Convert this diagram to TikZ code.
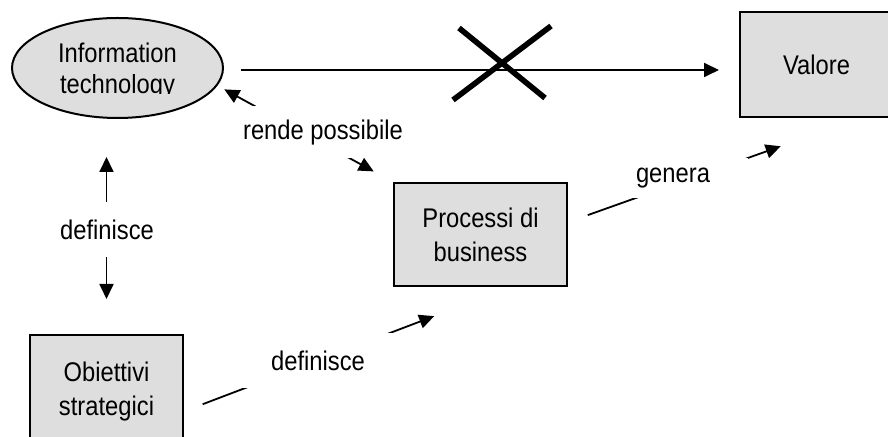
\documentclass[tikz,border=0pt]{standalone}
\usepackage{fontspec}
\setmainfont{Liberation Sans}[FakeStretch=0.88]
\usepackage{trimclip}
\usetikzlibrary{arrows.meta,shapes.geometric}
\definecolor{boxgray}{gray}{0.87}

\begin{document}
\begin{tikzpicture}[x=0.5pt, y=-0.5pt, font=\fontsize{13.5}{17}\selectfont,
		>={Triangle[length=7.5pt,width=7pt]},
		box/.style={rectangle, draw, line width=1pt, fill=boxgray, align=center, inner sep=0pt},
		conn/.style={line width=0.9pt},
		lbl/.style={fill=white, inner sep=0pt, minimum height=27.5pt},
		cross/.style={line width=2.8pt}]
			\clip (0,0) rectangle (888,437);

			\node[box, ellipse, minimum width=105.5pt, minimum height=50pt, font=\fontsize{13.5}{15.5}\selectfont] (it) at (117.5,68) {Information\\\clipbox{0pt 0.22em 0pt 0pt}{technology}};
			\node[box, minimum width=76.5pt, minimum height=52.5pt] (va) at (816.5,64.5) {Valore};
			\node[box, minimum width=86.5pt, minimum height=51.5pt] (pb) at (480.5,234.5) {Processi di\\business};
			\node[box, minimum width=76.5pt, minimum height=57pt] (ob) at (106.5,392) {Obiettivi\\strategici};

			\coordinate (h) at ([yshift=-1pt]it.east);
			\draw[conn, ->, shorten <=8.5pt, shorten >=10pt] (h) -- (h -| va.west);
			\coordinate (no) at (502,63);
			\draw[cross] ([shift={(-43,-35)}]no) -- ([shift={(43,35)}]no);
			\draw[cross] ([shift={(-49,37)}]no) -- ([shift={(49,-37)}]no);

			\draw[conn, <->, shorten <=19pt, shorten >=17.5pt] (ob.north |- it.south) -- (ob.north);
			\draw[conn, <->, shorten <=3.9pt, shorten >=11pt] (it.-10) -- (pb.north west);
			\draw[conn, ->, shorten <=10pt, shorten >=41pt] (ob.-14) -- (pb.-60);
			\draw[conn, ->, shorten <=10.5pt, shorten >=42pt] (pb.8.5) -- (va.-51.5);

			\node[lbl, minimum width=52pt] (dv) at (107,229.5) {definisce};
			\node[lbl, minimum width=77.5pt, minimum height=26pt] (rp) at (323,132.5) {rende possibile};
			\node[lbl, minimum width=80pt] (df) at (318,360.5) {definisce};
			\node[lbl, minimum width=75pt, minimum height=20pt] (ge) at (673,178) {genera};
		\end{tikzpicture}
\end{document}
